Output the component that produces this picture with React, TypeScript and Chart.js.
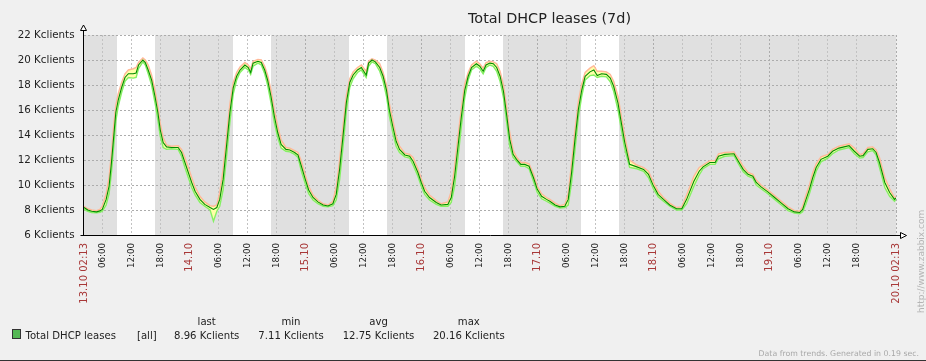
import React, { useEffect, useRef } from 'react';
import { Chart, registerables } from 'chart.js';

Chart.register(...registerables);

// Hours elapsed since 13.10 00:00
const HOURS = [
  2.22, 3.0, 3.8, 4.8, 5.5, 6.0, 6.8, 7.4, 7.9, 8.3,
  8.8, 9.3, 10.0, 10.7, 11.4, 12.4, 13.0, 13.5, 14.4, 14.9,
  15.5, 16.2, 16.9, 17.5, 18.0, 18.6, 19.3, 20.3, 21.7, 22.4,
  23.1, 23.8, 24.5, 25.2, 26.2, 27.2, 28.3, 29.0, 29.7, 30.3,
  31.0, 31.7, 32.4, 33.1, 33.8, 34.5, 35.5, 36.2, 36.7, 37.2,
  38.2, 38.9, 39.6, 40.2, 40.9, 41.6, 42.3, 43.0, 44.0, 44.8,
  45.8, 46.5, 47.2, 48.0, 48.7, 49.6, 50.6, 51.7, 52.7, 53.7,
  54.4, 55.1, 55.8, 56.5, 57.2, 57.9, 58.8, 59.6, 60.1, 60.6,
  61.1, 61.8, 62.5, 63.4, 64.1, 64.8, 65.4, 66.1, 66.8, 67.5,
  68.6, 69.6, 70.3, 71.3, 72.0, 72.7, 73.7, 75.1, 76.1, 77.5,
  78.2, 78.9, 79.6, 80.3, 81.0, 81.7, 82.4, 83.4, 84.1, 84.8,
  85.4, 86.2, 86.9, 87.6, 88.3, 89.0, 89.7, 90.3, 91.0, 91.7,
  92.6, 93.4, 94.3, 95.2, 96.0, 96.9, 97.9, 98.6, 99.7, 100.7,
  101.7, 102.4, 103.1, 103.8, 104.5, 105.2, 105.9, 106.9, 107.7, 108.4,
  109.3, 110.3, 111.1, 111.8, 112.7, 113.4, 114.1, 115.1, 116.6, 118.0,
  119.0, 120.0, 121.0, 122.1, 123.4, 124.8, 125.9, 126.9, 128.4, 129.5,
  130.3, 131.7, 132.8, 133.5, 134.8, 136.7, 137.6, 138.6, 139.6, 140.6,
  141.3, 142.3, 143.7, 145.1, 146.5, 147.9, 149.2, 150.3, 150.9, 151.6,
  152.3, 153.0, 153.7, 154.7, 156.1, 157.1, 158.4, 160.5, 161.6, 162.7,
  163.4, 164.4, 165.4, 166.1, 166.8, 167.9, 168.9, 169.9, 170.22,
];

const AVG_K = [
  8.2, 8.0, 7.9, 7.85, 7.93, 8.05, 8.85, 9.9, 11.8, 13.6,
  15.8, 16.8, 17.8, 18.6, 18.9, 18.9, 18.96, 19.6, 20.0, 19.8,
  19.2, 18.4, 17.1, 15.8, 14.4, 13.4, 13.05, 13.0, 13.0, 12.6,
  11.8, 11.0, 10.2, 9.5, 8.85, 8.45, 8.2, 8.05, 8.2, 8.85,
  10.45, 13.1, 15.8, 17.8, 18.7, 19.2, 19.6, 19.4, 19.0, 19.75,
  19.9, 19.8, 19.2, 18.4, 17.1, 15.5, 14.2, 13.25, 12.85, 12.8,
  12.6, 12.4, 11.5, 10.45, 9.6, 9.0, 8.65, 8.4, 8.32, 8.5,
  9.25, 11.25, 13.9, 16.6, 18.2, 18.8, 19.2, 19.4, 19.1, 18.8,
  19.75, 20.0, 19.85, 19.4, 18.7, 17.6, 16.0, 14.7, 13.5, 12.85,
  12.4, 12.3, 11.9, 11.0, 10.2, 9.5, 9.0, 8.6, 8.4, 8.45,
  9.0, 10.7, 13.1, 15.5, 17.6, 18.7, 19.4, 19.7, 19.5, 19.1,
  19.6, 19.75, 19.7, 19.4, 18.7, 17.5, 15.5, 13.65, 12.45, 12.05,
  11.65, 11.65, 11.5, 10.6, 9.65, 9.1, 8.85, 8.7, 8.4, 8.25,
  8.3, 8.85, 11.0, 13.65, 16.05, 17.6, 18.7, 19.05, 19.2, 18.75,
  18.9, 18.85, 18.55, 17.9, 16.55, 14.95, 13.4, 11.65, 11.45, 11.25,
  10.85, 9.95, 9.25, 8.85, 8.4, 8.1, 8.1, 8.85, 10.3, 11.1,
  11.45, 11.8, 11.8, 12.3, 12.45, 12.5, 11.9, 11.25, 10.85, 10.7,
  10.2, 9.85, 9.45, 9.0, 8.55, 8.1, 7.85, 7.8, 8.05, 8.85,
  9.65, 10.6, 11.4, 12.05, 12.3, 12.7, 12.95, 13.15, 12.7, 12.3,
  12.35, 12.85, 12.9, 12.6, 11.8, 10.2, 9.4, 8.85, 8.96,
];

const MIN_K = [
  8.05, 7.9, 7.8, 7.78, 7.82, 7.9, 8.4, 9.3, 11.0, 12.8,
  15.1, 16.3, 17.4, 18.3, 18.6, 18.55, 18.6, 19.3, 19.85, 19.6,
  18.9, 18.0, 16.6, 15.2, 13.9, 13.0, 12.85, 12.9, 12.85, 12.3,
  11.4, 10.6, 9.8, 9.2, 8.6, 8.3, 8.0, 7.11, 7.9, 8.3,
  9.6, 12.2, 15.0, 17.3, 18.4, 19.0, 19.4, 19.2, 18.85, 19.5,
  19.75, 19.6, 18.9, 18.0, 16.6, 15.0, 13.8, 12.95, 12.7, 12.65,
  12.45, 12.2, 11.1, 10.1, 9.3, 8.8, 8.5, 8.3, 8.25, 8.35,
  8.8, 10.4, 13.0, 15.9, 17.8, 18.5, 19.0, 19.2, 18.9, 18.6,
  19.5, 19.85, 19.7, 19.1, 18.3, 17.1, 15.5, 14.2, 13.1, 12.6,
  12.25, 12.15, 11.6, 10.7, 9.9, 9.25, 8.8, 8.45, 8.3, 8.3,
  8.6, 9.9, 12.2, 14.7, 17.0, 18.4, 19.2, 19.5, 19.3, 18.9,
  19.4, 19.6, 19.5, 19.1, 18.3, 17.0, 14.9, 13.1, 12.2, 11.9,
  11.5, 11.5, 11.3, 10.3, 9.4, 8.9, 8.7, 8.55, 8.3, 8.15,
  8.2, 8.4, 10.2, 12.8, 15.4, 17.1, 18.4, 18.75, 18.8, 18.6,
  18.7, 18.65, 18.25, 17.5, 16.0, 14.4, 12.9, 11.4, 11.3, 11.1,
  10.6, 9.7, 9.05, 8.7, 8.3, 8.0, 8.0, 8.5, 9.9, 10.8,
  11.3, 11.65, 11.65, 12.1, 12.3, 12.35, 11.7, 11.05, 10.7, 10.55,
  10.0, 9.7, 9.3, 8.85, 8.4, 7.95, 7.75, 7.7, 7.85, 8.5,
  9.3, 10.2, 11.1, 11.85, 12.15, 12.5, 12.8, 13.0, 12.5, 12.15,
  12.2, 12.65, 12.75, 12.4, 11.4, 9.8, 9.1, 8.7, 8.85,
];

const MAX_K = [
  8.3, 8.1, 8.0, 7.95, 8.05, 8.3, 9.3, 10.6, 12.6, 14.5,
  16.4, 17.3, 18.2, 18.9, 19.2, 19.3, 19.4, 19.8, 20.16, 20.0,
  19.6, 18.8, 17.6, 16.3, 14.9, 13.8, 13.2, 13.1, 13.15, 12.85,
  12.2, 11.4, 10.6, 9.85, 9.1, 8.65, 8.35, 8.3, 8.4, 9.4,
  11.3, 13.9, 16.5, 18.2, 19.0, 19.45, 19.8, 19.6, 19.3, 19.9,
  20.05, 20.0, 19.5, 18.8, 17.6, 16.0, 14.7, 13.6, 13.0, 12.95,
  12.75, 12.6, 11.9, 10.8, 9.9, 9.2, 8.8, 8.5, 8.4, 8.7,
  9.8, 12.0, 14.7, 17.2, 18.5, 19.05, 19.4, 19.6, 19.35, 19.1,
  19.9, 20.1, 20.0, 19.7, 19.0, 18.0, 16.5, 15.2, 13.9, 13.1,
  12.55, 12.45, 12.2, 11.3, 10.5, 9.8, 9.2, 8.75, 8.5, 8.65,
  9.5, 11.5, 13.9, 16.2, 18.1, 19.0, 19.6, 19.9, 19.7, 19.35,
  19.8, 19.9, 19.85, 19.7, 19.1, 18.0, 16.1, 14.2, 12.8, 12.25,
  11.8, 11.8, 11.7, 10.9, 9.9, 9.3, 9.0, 8.85, 8.55, 8.35,
  8.45, 9.3, 11.8, 14.4, 16.7, 18.1, 19.0, 19.35, 19.55, 19.1,
  19.1, 19.05, 18.85, 18.3, 17.1, 15.5, 13.9, 12.0, 11.6, 11.4,
  11.1, 10.25, 9.5, 9.0, 8.55, 8.2, 8.25, 9.2, 10.7, 11.4,
  11.6, 11.95, 11.95, 12.5, 12.6, 12.65, 12.15, 11.5, 11.0, 10.85,
  10.4, 10.0, 9.6, 9.15, 8.7, 8.25, 7.95, 7.9, 8.3, 9.2,
  10.0, 11.0, 11.7, 12.25, 12.45, 12.85, 13.1, 13.3, 12.95, 12.45,
  12.5, 13.0, 13.05, 12.8, 12.2, 10.6, 9.7, 9.0, 9.05,
];

const X_START = 2.2167; // 13.10 02:13
const X_END = 170.2167; // 20.10 02:13

const TICK_HOURS = [
  2.2167, 6, 12, 18, 24, 30, 36, 42, 48, 54, 60, 66, 72, 78, 84,
  90, 96, 102, 108, 114, 120, 126, 132, 138, 144, 150, 156, 162, 170.2167,
];
const TICK_LABELS = [
  '13.10 02:13', '06:00', '12:00', '18:00', '14.10', '06:00', '12:00', '18:00',
  '15.10', '06:00', '12:00', '18:00', '16.10', '06:00', '12:00', '18:00',
  '17.10', '06:00', '12:00', '18:00', '18.10', '06:00', '12:00', '18:00',
  '19.10', '06:00', '12:00', '18:00', '20.10 02:13',
];
const Y_TICKS = [6, 8, 10, 12, 14, 16, 18, 20, 22];

const WORK_START = [9, 33, 57, 81, 105];
const WORK_END = [17, 41, 65, 89, 113];

const TITLE = 'Total DHCP leases (7d)';
const SERIES_NAME = 'Total DHCP leases';
const LEGEND_HEADERS = ['last', 'min', 'avg', 'max'];
const LEGEND_VALUES = ['8.96 Kclients', '7.11 Kclients', '12.75 Kclients', '20.16 Kclients'];

const FONT = 'DejaVu Sans';
const RED = '#a83838';
const DARK = '#222222';

const isRedTick = (i: number) => {
  const l = TICK_LABELS[i] || '';
  return l.indexOf('.') >= 0;
};

const zbxPlugin = {
  id: 'zbx',
  beforeDraw(chart: any) {
    const { ctx, chartArea: a, scales } = chart;
    const x = scales.x;
    const y = scales.y;
    ctx.save();
    ctx.fillStyle = '#f0f0f0';
    ctx.fillRect(0, 0, chart.width, chart.height);
    ctx.fillStyle = '#e0e0e0';
    ctx.fillRect(a.left, a.top, a.right - a.left, a.bottom - a.top);
    ctx.fillStyle = '#ffffff';
    WORK_START.forEach((s, i) => {
      const x0 = Math.round(x.getPixelForValue(s));
      const x1 = Math.round(x.getPixelForValue(WORK_END[i]));
      ctx.fillRect(x0, a.top, x1 - x0, a.bottom - a.top);
    });
    ctx.lineWidth = 1;
    ctx.setLineDash([2, 2]);
    Y_TICKS.forEach((v) => {
      if (v === Y_TICKS[0]) return;
      const py = Math.round(y.getPixelForValue(v)) + 0.5;
      ctx.strokeStyle = '#acacac';
      ctx.beginPath();
      ctx.moveTo(a.left, py);
      ctx.lineTo(a.right + 1, py);
      ctx.stroke();
    });
    TICK_HOURS.forEach((v, i) => {
      if (i === 0) return;
      const px = Math.round(x.getPixelForValue(v)) + 0.5;
      ctx.strokeStyle = isRedTick(i) ? '#acacac' : '#c2c2c2';
      ctx.beginPath();
      ctx.moveTo(px, a.top);
      ctx.lineTo(px, a.bottom);
      ctx.stroke();
    });
    ctx.restore();
  },
  afterDraw(chart: any) {
    const { ctx, chartArea: a } = chart;
    ctx.save();
    ctx.setLineDash([]);
    ctx.strokeStyle = '#000000';
    ctx.lineWidth = 1;
    const ax = a.left - 0.5;
    const ay = a.bottom + 0.5;
    // y axis
    ctx.beginPath();
    ctx.moveTo(ax, ay);
    ctx.lineTo(ax, a.top - 4.5);
    ctx.stroke();
    ctx.beginPath();
    ctx.moveTo(ax, a.top - 10);
    ctx.lineTo(ax - 3, a.top - 4.5);
    ctx.lineTo(ax + 3, a.top - 4.5);
    ctx.closePath();
    ctx.fillStyle = '#ffffff';
    ctx.fill();
    ctx.stroke();
    // x axis
    ctx.beginPath();
    ctx.moveTo(ax - 3, ay);
    ctx.lineTo(a.right + 4.5, ay);
    ctx.stroke();
    ctx.beginPath();
    ctx.moveTo(a.right + 10.5, ay);
    ctx.lineTo(a.right + 4.5, ay - 3);
    ctx.lineTo(a.right + 4.5, ay + 3);
    ctx.closePath();
    ctx.fill();
    ctx.stroke();

    // title
    ctx.fillStyle = DARK;
    ctx.font = `14.4px "${FONT}"`;
    ctx.textAlign = 'center';
    ctx.textBaseline = 'alphabetic';
    ctx.fillText(TITLE, 549.5, 22.5);

    // legend
    ctx.fillStyle = '#55b855';
    ctx.fillRect(12.5, 329.5, 8, 9);
    ctx.strokeStyle = '#333333';
    ctx.strokeRect(12.5, 329.5, 8, 9);
    ctx.fillStyle = DARK;
    ctx.font = `10.1px "${FONT}"`;
    ctx.textAlign = 'left';
    ctx.fillText(SERIES_NAME, 25.5, 338.5);
    ctx.fillText('[all]', 137, 338.5);
    const cols = [206.7, 291, 378.5, 468.8];
    ctx.textAlign = 'center';
    cols.forEach((cx, i) => {
      ctx.fillText(LEGEND_HEADERS[i], cx, 325);
      ctx.fillText(LEGEND_VALUES[i], cx, 338.5);
    });

    // footer
    ctx.fillStyle = '#a8a8a8';
    ctx.font = `7.8px "${FONT}"`;
    ctx.textAlign = 'right';
    ctx.fillText('Data from trends. Generated in 0.19 sec.', 919, 356);

    // vertical url
    ctx.save();
    ctx.translate(924, 313);
    ctx.rotate(-Math.PI / 2);
    ctx.fillStyle = '#b4b4b4';
    ctx.font = `9px "${FONT}"`;
    ctx.textAlign = 'left';
    ctx.textBaseline = 'alphabetic';
    ctx.fillText('http://www.zabbix.com', 0, 0);
    ctx.restore();

    // bottom border
    ctx.fillStyle = '#333333';
    ctx.fillRect(0, 360, chart.width, 1);
    ctx.restore();
  },
};

export default function App() {
  const ref = useRef<HTMLCanvasElement | null>(null);

  useEffect(() => {
    const canvas = ref.current;
    if (!canvas) return;
    const pts = (arr: number[]) => HOURS.map((h, i) => ({ x: h, y: arr[i] }));
    const chart = new Chart(canvas, {
      type: 'line',
      data: {
        datasets: [
          {
            label: 'min',
            data: pts(MIN_K),
            borderColor: '#84f064',
            borderWidth: 1.4,
            pointRadius: 0,
            tension: 0,
            fill: false,
            order: 1,
          },
          {
            label: 'max',
            data: pts(MAX_K),
            borderColor: '#ffb898',
            borderWidth: 1.4,
            pointRadius: 0,
            tension: 0,
            fill: { target: 0 },
            backgroundColor: '#ffffa8',
            order: 2,
          },
          {
            label: SERIES_NAME,
            data: pts(AVG_K),
            borderColor: '#008c00',
            borderWidth: 1.1,
            pointRadius: 0,
            tension: 0,
            fill: false,
            order: 0,
          },
        ],
      },
      options: {
        animation: false,
        responsive: false,
        devicePixelRatio: 1,
        events: [],
        layout: { padding: { left: 0, top: 35, right: 30, bottom: 0 } },
        plugins: {
          legend: { display: false },
          title: { display: false },
          tooltip: { enabled: false },
        },
        scales: {
          x: {
            type: 'linear',
            min: X_START,
            max: X_END,
            grid: { display: false, drawTicks: false },
            border: { display: false },
            afterBuildTicks: (scale: any) => {
              scale.ticks = TICK_HOURS.map((v) => ({ value: v }));
            },
            afterFit: (scale: any) => {
              scale.height = 126;
            },
            ticks: {
              autoSkip: false,
              minRotation: 90,
              maxRotation: 90,
              padding: 8,
              callback: (_v: any, i: number) => TICK_LABELS[i],
              color: (c: any) => (isRedTick(c.index) ? RED : DARK),
              font: (c: any) => ({ family: FONT, size: isRedTick(c.index) ? 10 : 8.7 }),
            },
          },
          y: {
            type: 'linear',
            min: 6,
            max: 22,
            grid: { display: false, drawTicks: false },
            border: { display: false },
            afterBuildTicks: (scale: any) => {
              scale.ticks = Y_TICKS.map((v) => ({ value: v }));
            },
            afterFit: (scale: any) => {
              scale.width = 84;
            },
            ticks: {
              padding: 9.5,
              color: DARK,
              font: { family: FONT, size: 10.3 },
              callback: (v: any) => `${v} Kclients`,
            },
          },
        },
      },
      plugins: [zbxPlugin],
    });
    return () => chart.destroy();
  }, []);

  return (
    <div
      style={{
        position: 'fixed',
        left: 0,
        top: 0,
        width: 926,
        height: 361,
        background: '#f0f0f0',
        overflow: 'hidden',
      }}
    >
      <canvas ref={ref} width={926} height={361} style={{ display: 'block' }} />
    </div>
  );
}
